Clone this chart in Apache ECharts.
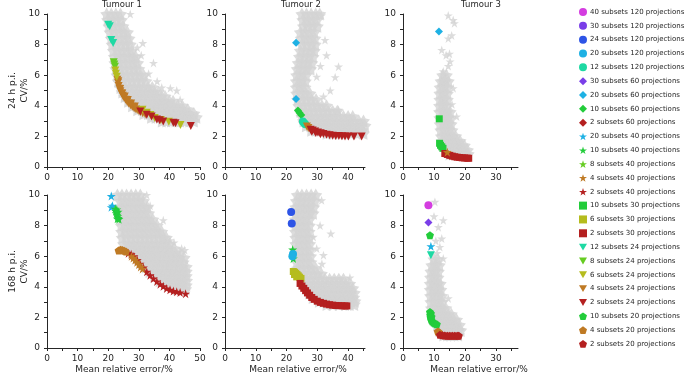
<!DOCTYPE html>
<html><head><meta charset="utf-8">
<script src="https://cdn.jsdelivr.net/npm/echarts@6/dist/echarts.min.js"></script>
<style>html,body{margin:0;padding:0;background:#fff}#c{width:685px;height:375px}</style>
</head><body><div id="c"></div>
<script>
// ---------- tick labels ----------
const yTicks = [0,1,2,3,4,5,6,7,8,9,10];
const yLabels = [0,2,4,6,8,10];
const xTicksA = [0,5,10,15,20,25,30,35,40,45,50];
const xLabelsA = [0,10,20,30,40,50];
const xTicksB = [0,5,10,15,20,25,30,35,40,45];
const xLabelsB = [0,10,20,30,40];
const xTicksC = [0,5,10,15,20,25,30,35];
const xLabelsC = [0,10,20,30];
const titles = ['Tumour 1','Tumour 2','Tumour 3'];
const rowNames = [['24 h p.i.','CV/%'],['168 h p.i.','CV/%']];
const xName = 'Mean relative error/%';

const legendNames = [
 '40 subsets 120 projections','30 subsets 120 projections','24 subsets 120 projections','20 subsets 120 projections','12 subsets 120 projections',
 '30 subsets 60 projections','20 subsets 60 projections','10 subsets 60 projections','2 subsets 60 projections',
 '20 subsets 40 projections','10 subsets 40 projections','8 subsets 40 projections','4 subsets 40 projections','2 subsets 40 projections',
 '10 subsets 30 projections','6 subsets 30 projections','2 subsets 30 projections',
 '12 subsets 24 projections','8 subsets 24 projections','6 subsets 24 projections','4 subsets 24 projections','2 subsets 24 projections',
 '10 subsets 20 projections','4 subsets 20 projections','2 subsets 20 projections'];

// ---------- grey clouds: rows [y, x1, x2, ...] and scattered [x,y] ----------
const gA = [
 [10.0,19.5,21,22.5,24],[9.6,19.8,21.3,22.8,24.3],[9.2,20.3,21.8,23.3,24.8],[8.8,20.6,22.1,23.6,25.1,26.3],
 [8.4,21.0,22.5,24,25.5,26.8],[8.0,21.3,22.8,24.3,25.8,27.2],[7.6,21.7,23.2,24.7,26.2,27.7],[7.2,22.0,23.5,25,26.5,28,29],
 [6.8,22.2,23.7,25.2,26.7,28.2,29.6],[6.4,22.5,24,25.5,27,28.5,30],[6.0,22.9,24.4,25.9,27.4,28.9,30.4,31.6],
 [5.6,23.3,24.8,26.3,27.8,29.3,30.8,32.3],[5.2,24.0,25.5,27,28.5,30,31.5,33,34.4],[4.9,24.6,26.1,27.6,29.1,30.6,32.1,33.6,35.1,36.4],
 [4.6,25.4,26.9,28.4,29.9,31.4,32.9,34.4,35.9,37.4,38.6],[4.3,26.5,28,29.5,31,32.5,34,35.5,37,38.5,40,41.2],
 [4.0,27.8,29.3,30.8,32.3,33.8,35.3,36.8,38.3,39.8,41.3,42.8,44.2],[3.75,29.5,31,32.5,34,35.5,37,38.5,40,41.5,43,44.5,46],
 [3.5,31.5,33,34.5,36,37.5,39,40.5,42,43.5,45,46.5,48],[3.25,34,35.5,37,38.5,40,41.5,43,44.5,46,47.5,48.8],
 [3.0,37.5,39,40.5,42,43.5,45,46.5,48]];
const sA = [[27.2,10],[31.3,8.1],[29.5,7.8],[30.8,7.3],[34.8,6.8],[33.2,6.1],[37.5,5.2],[40.3,5.15],[42.4,5.0],[43.5,4.4],[36,5.6]];

const gB = [
 [10.0,25,26.5,28,29.5,30.8],[9.6,25.3,26.8,28.3,29.8],[9.2,25.5,27,28.5,30],[8.8,24.5,26,27.5,29],[8.4,24.8,26.3,27.8,29.2],
 [8.0,25,26.5,28,29.3],[7.6,24.5,26,27.5,29],[7.2,24.2,25.7,27.2,28.6],[6.8,23.8,25.3,26.8,28.2],[6.4,23.5,25,26.5,27.8],
 [6.0,23.3,24.8,26.3],[5.6,23.2,24.7,26.1],[5.2,23.2,24.6,26],[4.8,23.3,24.8,26.3,27.6],[4.4,23.6,25.1,26.6,28.1,29.6],
 [4.0,24.0,25.5,27,28.5,30,31.5,33],[3.65,24.5,26,27.5,29,30.5,32,33.5,35,36.5],
 [3.3,25,26.5,28,29.5,31,32.5,34,35.5,37,38.5,40,41.5],[3.0,25.5,27,28.5,30,31.5,33,34.5,36,37.5,39,40.5,42,43.5,45],
 [2.7,26.3,27.8,29.3,30.8,32.3,33.8,35.3,36.8,38.3,39.8,41.3,42.8,44.3,45.5],[2.4,28,29.5,31,32.5,34,35.5,37,38.5,40,41.5,43,44.5],
 [2.2,33,35,37,39,41,43,45]];
const sB = [[32.5,8.3],[33,7.3],[36.9,6.56],[35.8,5.87],[34.2,5.0],[36.9,3.74],[31,6.6],[29.8,5.9],[32,4.6],[28.7,7.6],[31.4,9.9]];

const gC = [
 [6.0,12.8,14.0],[5.6,12.3,13.5,14.6],[5.2,12.0,13.2,14.4],[4.8,11.9,13.1,14.3],[4.4,11.9,13.1,14.3],[4.0,11.8,13.0,14.2],
 [3.6,11.8,13.0,14.2,15.2],[3.2,11.9,13.1,14.3,15.3],[2.8,12.0,13.2,14.4,15.5],[2.4,12.2,13.4,14.6,15.8],
 [2.0,12.4,13.6,14.8,16.0,17.0],[1.7,12.6,13.8,15.0,16.2,17.4,18.4],[1.4,13.0,14.2,15.4,16.6,17.8,19.0,19.8],
 [1.1,13.6,14.8,16.0,17.2,18.4,19.6,20.8],[0.85,15.0,16.2,17.4,18.6,19.8,21.0]];
const sC = [[14.6,9.9],[16.2,9.6],[16.6,9.4],[14.6,8.4],[15.7,8.6],[12.5,7.65],[13.9,7.3],[15,7.4],[15.2,6.9],[14.6,6.6],[13,6.25],[13.5,5.8],[16.2,5.15],[12.5,5.6],[17.3,3.3],[15.8,4.1]];

const gD = [
 [10.0,23,24.5,26,27.5,29,30.5],[9.6,24,25.5,27,28.5,30,31.5],[9.2,24,25.5,27,28.5,30,31.5,32.8],
 [8.8,24.2,25.7,27.2,28.7,30.2,31.7,33.2],[8.4,24.2,25.7,27.2,28.7,30.2,31.7,33.2,34.6],
 [8.0,24.3,25.8,27.3,28.8,30.3,31.8,33.3,34.8,36],[7.6,24.4,25.9,27.4,28.9,30.4,31.9,33.4,34.9,36.4,37.5],
 [7.2,24.6,26.1,27.6,29.1,30.6,32.1,33.6,35.1,36.6,38.1,39],[6.8,25,26.5,28,29.5,31,32.5,34,35.5,37,38.5,40],
 [6.5,26.5,28,29.5,31,32.5,34,35.5,37,38.5,40,41.5],[6.2,28.5,30,31.5,33,34.5,36,37.5,39,40.5,42,43.5],
 [5.9,29.8,31.3,32.8,34.3,35.8,37.3,38.8,40.3,41.8,43.3,44.8],[5.6,31,32.5,34,35.5,37,38.5,40,41.5,43,44.5],
 [5.3,32.3,33.8,35.3,36.8,38.3,39.8,41.3,42.8,44.3,45.5],[5.0,33.5,35,36.5,38,39.5,41,42.5,44,45.5],
 [4.7,35,36.5,38,39.5,41,42.5,44,45.5],[4.4,36.8,38.3,39.8,41.3,42.8,44.3,45.6],[4.1,39.5,41,42.5,44,45.5],[3.85,42.5,44,45.3]];
const sD = [[32.6,10],[33.7,9.3],[38,8.35],[40.2,7.04],[44,6.5],[45,6.4],[41.5,6.9]];

const gE = [
 [10.0,23.5,25,26.5,28,29.5],[9.6,23.2,24.7,26.2,27.7,29.2],[9.2,23,24.5,26,27.5,28.8],[8.8,23,24.5,26,27.5,28.6],
 [8.4,22.9,24.4,25.9,27.4],[8.0,22.9,24.4,25.9,27.4],[7.6,22.9,24.4,25.9,27.3],[7.2,23,24.5,26,27.4],[6.8,23,24.5,26,27.5],
 [6.4,23.1,24.6,26.1,27.6],[6.0,23.3,24.8,26.3,27.8],[5.6,23.4,24.9,26.4,27.9],[5.2,23.6,25.1,26.6,28.1,29.5],
 [4.85,24,25.5,27,28.5,30,31.3],[4.5,25,26.5,28,29.5,31,32.5,34,35.5,37,38.5],
 [4.2,25.7,27.2,28.7,30.2,31.7,33.2,34.7,36.2,37.7,39.2,40.5],[3.9,26.5,28,29.5,31,32.5,34,35.5,37,38.5,40,41.5],
 [3.6,27.3,28.8,30.3,31.8,33.3,34.8,36.3,37.8,39.3,40.8,42],[3.3,28.5,30,31.5,33,34.5,36,37.5,39,40.5,41.8],
 [3.05,30.5,32,33.5,35,36.5,38,39.5,41,42.2],[2.85,33,35,37,39,40.5,42]];
const sE = [[31.4,9.65],[30.9,8.0],[34.4,7.48],[28.7,7.26],[29.8,6.5],[32,6.07],[40.6,4.6],[31.5,5.5]];

const gF = [
 [5.8,10.0,11.2],[5.4,9.3,10.5,11.7],[5.0,9.0,10.2,11.4],[4.6,8.9,10.1,11.3],[4.2,8.8,10.0,11.2,12.0],
 [3.8,8.8,10.0,11.2,12.2],[3.4,8.9,10.1,11.3,12.5],[3.0,9.0,10.2,11.4,12.6],[2.6,9.2,10.4,11.6,12.8,13.8],
 [2.2,9.8,11.0,12.2,13.4,14.6,15.6],[1.85,10.4,11.6,12.8,14.0,15.2,16.4,17.3],[1.5,11.0,12.2,13.4,14.6,15.8,17.0,18.2],
 [1.15,11.8,13.0,14.2,15.4,16.6,17.8,18.6],[0.85,13,14.2,15.4,16.6,17.8]];
const sF = [[10.3,9.55],[13,8.35],[11.4,7.9],[12.5,7.15],[13,5.85],[10,8.6],[11.9,6.6],[14.6,3.24],[10.6,7.0],[11,6.2]];

// ---------- coloured series ----------
const A_12_24 = [[20.0,9.3],[20.5,9.2],[21.0,8.3],[21.6,8.1]];
const A_8_24 = [[21.8,6.85],[22.0,6.7],[22.2,6.55]];
const A_6_24 = [[22.3,6.3],[22.5,6.1],[22.8,5.9],[31.2,3.75],[32.6,3.55],[33.8,3.4],[35.2,3.2],[37.2,3.07],[39.8,2.95],[43.6,2.75]];
const A_4_24 = [[23.0,5.7],[23.2,5.5],[23.4,5.3],[23.7,5.12],[24.0,4.95],[24.4,4.8],[24.8,4.65],[25.2,4.52],[25.7,4.4],[26.2,4.27],[26.7,4.15],[27.3,4.04],[27.9,3.94],[28.5,3.84],[29.1,3.76],[29.8,3.67],[30.5,3.6],[31.3,3.52],[32.1,3.45],[23.3,5.6],[23.9,5.1],[24.6,4.8],[25.4,4.6],[26.4,4.38],[27.5,4.15],[28.7,3.95]];
const A_2_24 = [[30.5,3.62],[32.6,3.41],[34.2,3.3],[35.9,3.1],[36.8,3.05],[38.0,2.98],[41.3,2.9],[42.0,2.86],[47.0,2.68]];

const B_20_60 = [[23.1,8.12],[23.1,4.45]];
const B_10_60 = [[23.7,3.7],[24.2,3.55],[24.8,3.4]];
const B_12_120 = [[25.3,2.98],[25.7,2.88],[26.1,2.8]];
const B_4_24 = [[26.6,2.64],[27.1,2.55]];
const B_2_24 = [[27.8,2.44],[28.2,2.3],[28.5,2.38],[29.3,2.32],[29.5,2.22],[30.2,2.26],[31.0,2.14],[31.1,2.2],[32.0,2.15],[33.0,2.11],[34.0,2.08],[35.0,2.05],[36.0,2.03],[37.0,2.02],[38.0,2.01],[39.0,2.0],[40.1,2.0],[41.9,2.0],[44.4,2.0]];

const C_20_60 = [[11.6,8.85]];
const C_10_30 = [[11.7,3.15],[11.8,1.55],[12.1,1.42],[12.5,1.32],[12.9,1.22]];
const C_4_40 = [[14.3,0.97]];
const C_2_30 = [[13.5,0.88],[14.3,0.82],[15.1,0.76],[15.9,0.71],[16.7,0.67],[17.5,0.64],[18.3,0.62],[19.1,0.6],[19.9,0.59],[20.7,0.58],[21.2,0.57]];

const D_20_40 = [[21.0,9.93],[21.0,9.2],[21.4,9.3]];
const D_10_40 = [[22.3,9.1],[22.5,8.95],[22.7,8.8],[22.9,8.7],[23.1,8.6],[23.3,8.5],[23.5,8.42],[23.2,8.9],[22.8,9.05],[23.0,8.45]];
const D_4_20 = [[23.4,6.38],[24.0,6.42],[24.6,6.4],[25.2,6.35],[25.8,6.3]];
const D_4_40 = [[27.6,6.0],[28.2,5.88],[28.8,5.75],[29.4,5.6],[30.0,5.45],[30.6,5.3],[31.2,5.17]];
const D_2_40 = [[26.6,6.2],[27.5,6.12],[28.4,6.0],[29.5,5.75],[30.4,5.5],[31.5,5.25],[32.6,4.98],[33.7,4.75],[34.8,4.54],[35.9,4.35],[37.0,4.17],[38.0,4.03],[39.1,3.89],[40.2,3.8],[41.3,3.72],[42.4,3.68],[43.5,3.63],[45.3,3.55]];

const E_24_120 = [[21.5,8.89],[21.7,8.13]];
const E_10_40 = [[22.0,6.43],[22.2,5.85]];
const E_20_120 = [[22.1,6.15],[21.9,6.0]];
const E_6_30 = [[22.2,5.0],[22.6,4.95],[23.0,4.88],[23.4,4.8],[23.8,4.72],[24.2,4.63],[24.7,4.55],[22.6,4.8],[23.3,4.65]];
const E_2_30 = [[24.4,4.22],[25.0,4.05],[25.6,3.9],[26.2,3.75],[26.8,3.6],[27.5,3.45],[28.2,3.3],[29.0,3.18],[30.0,3.06],[31.0,2.98],[32.0,2.92],[33.0,2.87],[34.0,2.83],[35.0,2.8],[36.0,2.78],[37.0,2.77],[38.0,2.76],[39.0,2.75],[39.6,2.75]];

const F_40_120 = [[8.2,9.33]];
const F_30_60 = [[8.2,8.2]];
const F_10_20 = [[8.7,7.37],[8.7,2.35],[8.8,2.15],[8.9,2.0],[9.1,1.85],[9.4,1.75],[9.8,1.66],[10.3,1.6],[10.9,1.56],[9.0,2.25],[9.2,2.05]];
const F_20_40 = [[9.0,6.65]];
const F_12_24 = [[9.0,6.07]];
const F_4_20 = [[11.2,1.08],[11.6,1.04]];
const F_2_20 = [[11.9,0.86],[12.7,0.83],[13.5,0.81],[14.3,0.8],[15.1,0.8],[15.9,0.8],[16.7,0.8],[17.5,0.8],[18.0,0.8]];

// legend-only configurations (no visible points)
const NONE = [];

// ---------- styling ----------
const subsetColor = {40:'#d43de0',30:'#7a3ee8',24:'#2d54e6',20:'#1eb1e4',12:'#1ed9a3',10:'#22cc3a',8:'#66cc22',6:'#b5bc1e',4:'#bf7a24',2:'#b42020'};
const STAR = 'path://M50,0 L61.8,35.5 L98.9,35.5 L68.8,57.4 L80.4,92.7 L50,70.9 L19.6,92.7 L31.2,57.4 L1.1,35.5 L38.2,35.5 Z';
const FATSTAR = 'path://M50,0 L66.46,27.35 L97.55,34.55 L76.63,58.65 L79.39,90.45 L50,78 L20.61,90.45 L23.37,58.65 L2.45,34.55 L33.54,27.35 Z';
const TRI = 'path://M0,0 L100,0 L50,86.6 Z';
const PENT = 'path://M50,0 L97.6,34.5 L79.4,90.5 L20.6,90.5 L2.4,34.5 Z';
const projSymbol = {120:['circle',8],60:['diamond',8],40:[STAR,9],30:['rect',7],24:[TRI,8],20:[PENT,8]};
function styleOf(name){
  const m = name.match(/(\d+) subsets (\d+) projections/);
  return {color: subsetColor[m[1]], symbol: projSymbol[m[2]][0], size: projSymbol[m[2]][1]};
}
const nm = (s,p) => s+' subsets '+p+' projections';

const panels = [
 {grey:gA, sparse:sA, items:[[nm(12,24),A_12_24],[nm(8,24),A_8_24],[nm(4,24),A_4_24],[nm(6,24),A_6_24],[nm(2,24),A_2_24],[nm(30,120),NONE],[nm(2,60),NONE],[nm(8,40),NONE]]},
 {grey:gB, sparse:sB, items:[[nm(20,60),B_20_60],[nm(10,60),B_10_60],[nm(12,120),B_12_120],[nm(4,24),B_4_24],[nm(2,24),B_2_24]]},
 {grey:gC, sparse:sC, items:[[nm(20,60),C_20_60],[nm(10,30),C_10_30],[nm(2,30),C_2_30],[nm(4,40),C_4_40]]},
 {grey:gD, sparse:sD, items:[[nm(20,40),D_20_40],[nm(10,40),D_10_40],[nm(2,40),D_2_40],[nm(4,20),D_4_20],[nm(4,40),D_4_40]]},
 {grey:gE, sparse:sE, items:[[nm(24,120),E_24_120],[nm(10,40),E_10_40],[nm(20,120),E_20_120],[nm(6,30),E_6_30],[nm(2,30),E_2_30]]},
 {grey:gF, sparse:sF, items:[[nm(40,120),F_40_120],[nm(30,60),F_30_60],[nm(10,20),F_10_20],[nm(20,40),F_20_40],[nm(12,24),F_12_24],[nm(4,20),F_4_20],[nm(2,20),F_2_20]]}
];

const FONT = 'DejaVu Sans';
const TXT = '#262626';
const GREY = '#d3d3d3';
const gridPos = [
 {left:47,top:14,width:153,height:153},{left:225,top:14,width:140,height:153},{left:403,top:14,width:115,height:153},
 {left:47,top:195,width:153,height:153},{left:225,top:195,width:140,height:153},{left:403,top:195,width:115,height:153}];
const xMax = [50,45.5,37.1,50,45.5,37.1];
const xT = [xTicksA,xTicksB,xTicksC,xTicksA,xTicksB,xTicksC];
const xL = [xLabelsA,xLabelsB,xLabelsC,xLabelsA,xLabelsB,xLabelsC];

const axisLine = {show:true, lineStyle:{color:TXT, width:1}};
const xAxes = gridPos.map((g,i)=>({gridIndex:i,type:'value',min:0,max:xMax[i],interval:5,
  axisLine:axisLine, splitLine:{show:false},
  axisTick:{show:true,length:3,inside:false,customValues:xT[i],lineStyle:{color:TXT}},
  axisLabel:{customValues:xL[i],fontSize:9,fontFamily:FONT,color:TXT,margin:6,
    formatter:v=>(v%10===0?String(v):'')}}));
const yAxes = gridPos.map((g,i)=>({gridIndex:i,type:'value',min:0,max:10,interval:1,
  axisLine:axisLine, splitLine:{show:false},
  axisTick:{show:true,length:3,customValues:yTicks,lineStyle:{color:TXT}},
  axisLabel:{customValues:yLabels,fontSize:9,fontFamily:FONT,color:TXT,margin:7,
    formatter:v=>(v%2===0?String(v):'')}}));

const series = [];
panels.forEach((p,i)=>{
  const pts = p.grey.flatMap(r=>r.slice(1).map(x=>[x,r[0]]));
  series.push({type:'scatter',xAxisIndex:i,yAxisIndex:i,data:pts,symbol:FATSTAR,symbolSize:13,
    itemStyle:{color:GREY},silent:true,z:1});
  series.push({type:'scatter',xAxisIndex:i,yAxisIndex:i,data:p.sparse,symbol:STAR,symbolSize:9,
    itemStyle:{color:GREY},silent:true,z:1});
});
panels.forEach((p,i)=>{
  p.items.forEach(([name,data])=>{
    const s = styleOf(name);
    series.push({type:'scatter',name:name,xAxisIndex:i,yAxisIndex:i,data:data,symbol:s.symbol,symbolSize:s.size,
      itemStyle:{color:s.color,opacity:1},z:3});
  });
});

const graphic = [];
const titleX = [122,301,481];
titles.forEach((t,i)=>graphic.push({type:'text',x:titleX[i],y:5,style:{text:t,font:'8.5px "DejaVu Sans"',fill:TXT,textAlign:'center',textVerticalAlign:'middle'}}));
const xNameX = [124,298,479];
xNameX.forEach(x=>graphic.push({type:'text',x:x,y:370,style:{text:xName,font:'9px "DejaVu Sans"',fill:TXT,textAlign:'center',textVerticalAlign:'middle'}}));
[90.5,271.5].forEach((cy,r)=>{
  graphic.push({type:'text',x:12.5,y:cy,rotation:Math.PI/2,style:{text:rowNames[r][0],font:'9px "DejaVu Sans"',fill:TXT,textAlign:'center',textVerticalAlign:'middle'}});
  graphic.push({type:'text',x:25,y:cy,rotation:Math.PI/2,style:{text:rowNames[r][1],font:'9px "DejaVu Sans"',fill:TXT,textAlign:'center',textVerticalAlign:'middle'}});
});

const chart = echarts.init(document.getElementById('c'),null,{renderer:'canvas'});
chart.setOption({
  animation:false,
  backgroundColor:'#fff',
  grid:gridPos,
  xAxis:xAxes, yAxis:yAxes,
  legend:{orient:'vertical',left:579,top:8,padding:0,itemWidth:8,itemHeight:8,itemGap:5.83,
    selectedMode:false,
    textStyle:{fontSize:7,fontFamily:FONT,color:TXT,lineHeight:8,padding:[0,0,0,-2]},
    data:legendNames.map(n=>({name:n,icon:styleOf(n).symbol}))},
  graphic:graphic,
  series:series
});
</script></body></html>
